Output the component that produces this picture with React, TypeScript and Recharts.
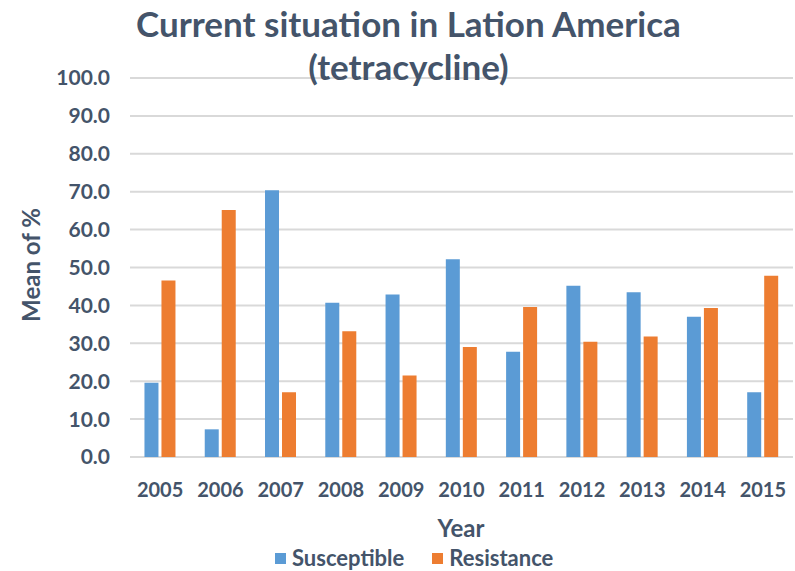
import React from 'react';
import { BarChart, Bar, CartesianGrid, XAxis, YAxis } from 'recharts';

const years = ['2005', '2006', '2007', '2008', '2009', '2010', '2011', '2012', '2013', '2014', '2015'];
const susceptible = [19.6, 7.3, 70.4, 40.7, 42.9, 52.2, 27.8, 45.2, 43.5, 37.0, 17.1];
const resistance = [46.6, 65.2, 17.1, 33.2, 21.5, 29.0, 39.6, 30.4, 31.8, 39.3, 47.8];
const yTicks = [0, 10, 20, 30, 40, 50, 60, 70, 80, 90, 100];

const series = [
  { key: 'Susceptible', color: '#5B9BD5' },
  { key: 'Resistance', color: '#ED7D31' },
];

const data = years.map((year, i) => ({
  year,
  Susceptible: susceptible[i],
  Resistance: resistance[i],
}));

const FONT = 'Lato, "Open Sans", sans-serif';
const INK = '#44546A';

export default function App() {
  return (
    <div style={{ position: 'absolute', left: 0, top: 0, width: 795, height: 571, background: '#fff', fontFamily: FONT }}>
      <BarChart
        width={795}
        height={571}
        data={data}
        margin={{ top: 78, right: 2, left: 0, bottom: 84 }}
        barCategoryGap="24%"
        barGap={3}
      >
        <CartesianGrid vertical={false} stroke="#D9D9D9" strokeWidth={2} />
        <XAxis
          dataKey="year"
          height={30}
          tickLine={false}
          axisLine={false}
          tickMargin={20}
          tick={{ fill: INK, fontSize: 20, fontWeight: 700, fontFamily: FONT }}
        />
        <YAxis
          width={130}
          domain={[0, 100]}
          ticks={yTicks}
          tickFormatter={(v: number) => v.toFixed(1)}
          tickLine={false}
          axisLine={false}
          tickMargin={14}
          tick={{ fill: INK, fontSize: 21, fontWeight: 700, fontFamily: FONT }}
        />
        {series.map((s) => (
          <Bar key={s.key} dataKey={s.key} fill={s.color} isAnimationActive={false} />
        ))}
      </BarChart>
      <div
        style={{
          position: 'absolute',
          left: 0,
          width: 795,
          top: 2,
          textAlign: 'center',
          paddingLeft: 22,
          boxSizing: 'border-box',
          color: INK,
          fontWeight: 700,
          fontSize: 35,
          lineHeight: '43px',
        }}
      >
        Current situation in Lation America
        <br />
        (tetracycline)
      </div>
      <div
        style={{
          position: 'absolute',
          left: 30,
          top: 265,
          transform: 'translate(-50%, -50%) rotate(-90deg)',
          color: INK,
          fontWeight: 700,
          fontSize: 24,
          whiteSpace: 'nowrap',
        }}
      >
        Mean of %
      </div>
      <div
        style={{
          position: 'absolute',
          left: 461,
          top: 527,
          transform: 'translate(-50%, -50%)',
          color: INK,
          fontWeight: 700,
          fontSize: 24,
        }}
      >
        Year
      </div>
      <div
        style={{
          position: 'absolute',
          left: 275,
          top: 546,
          display: 'flex',
          alignItems: 'center',
          color: INK,
          fontWeight: 700,
          fontSize: 22,
          lineHeight: '24px',
        }}
      >
        {series.map((s) => (
          <span key={s.key} style={{ display: 'flex', alignItems: 'center', marginRight: 28 }}>
            <span style={{ display: 'inline-block', width: 11, height: 11, background: s.color, marginRight: 6 }} />
            {s.key}
          </span>
        ))}
      </div>
    </div>
  );
}
